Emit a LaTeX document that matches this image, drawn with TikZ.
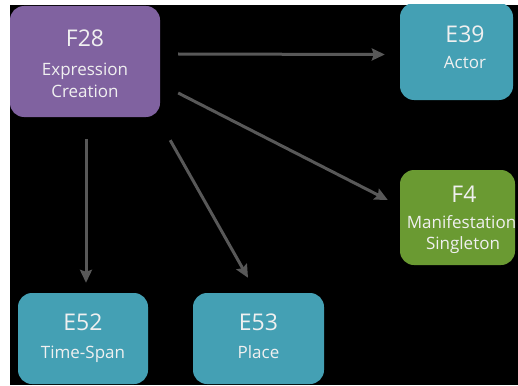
\documentclass[tikz,border=0pt]{standalone}
\usepackage{fontspec}
\setmainfont{Open Sans}
\usetikzlibrary{arrows.meta}
\definecolor{cpurple}{RGB}{128,98,160}
\definecolor{cteal}{RGB}{68,160,180}
\definecolor{cgreen}{RGB}{106,154,50}
\definecolor{carrow}{RGB}{88,88,88}
\definecolor{ctext}{RGB}{240,240,240}
\begin{document}
\begin{tikzpicture}[x=1pt,y=-1pt,
  box/.style={rectangle,rounded corners=14pt,inner sep=0pt},
  title/.style={anchor=base,text=ctext,font=\fontsize{23}{27}\selectfont,inner sep=0pt},
  sub/.style={anchor=base,text=ctext,font=\fontsize{17}{20}\selectfont,inner sep=0pt},
  arr/.style={draw=carrow,line width=3pt,-{Stealth[length=13pt,width=12pt,inset=2pt]}}]
\useasboundingbox (0,0) rectangle (518,385);
\fill[white] (0,0) rectangle (518,385);
\fill[black] (10,5) rectangle (518,385);
\begin{scope}
\clip (10,5) rectangle (518,385);
\node[box,fill=cpurple,minimum width=150pt,minimum height=111pt] (f28) at (85,61.5) {};
\node[box,fill=cteal,minimum width=113pt,minimum height=97pt] (e39) at (456.5,51.5) {};
\node[box,fill=cgreen,minimum width=115pt,minimum height=95pt] (f4) at (457.5,217.5) {};
\node[box,fill=cteal,minimum width=130pt,minimum height=91pt] (e52) at (83,338.5) {};
\node[box,fill=cteal,minimum width=131pt,minimum height=91pt] (e53) at (258.5,338.5) {};
\node[title] (f28t) at (85,47) {F28};
\node[sub] (f28a) at (85,76) {Expression};
\node[sub] (f28b) at (85,97) {Creation};
\node[title] (e39t) at (465,43) {E39};
\node[sub] (e39a) at (465,69) {Actor};
\node[title] (f4t) at (464,202) {F4};
\node[sub] (f4a) at (461.5,228) {Manifestation};
\node[sub] (f4b) at (463,249) {Singleton};
\node[title] (e52t) at (83,330) {E52};
\node[sub] (e52a) at (83,358) {Time-Span};
\node[title] (e53t) at (258.5,330) {E53};
\node[sub] (e53a) at (258.5,358) {Place};
\end{scope}
\draw[arr] ([shift={(18,-7.5)}]f28.east) -- ([shift={(-15,3)}]e39.west);
\draw[arr] ([shift={(18,31.5)}]f28.east) -- ([shift={(-12,-17.5)}]f4.west);
\draw[arr] ([shift={(10,23)}]f28.south east) -- ([shift={(-10.5,-15)}]e53.north);
\draw[arr] ([shift={(1,22)}]f28.south) -- ([shift={(3,-10)}]e52.north);
\end{tikzpicture}
\end{document}
